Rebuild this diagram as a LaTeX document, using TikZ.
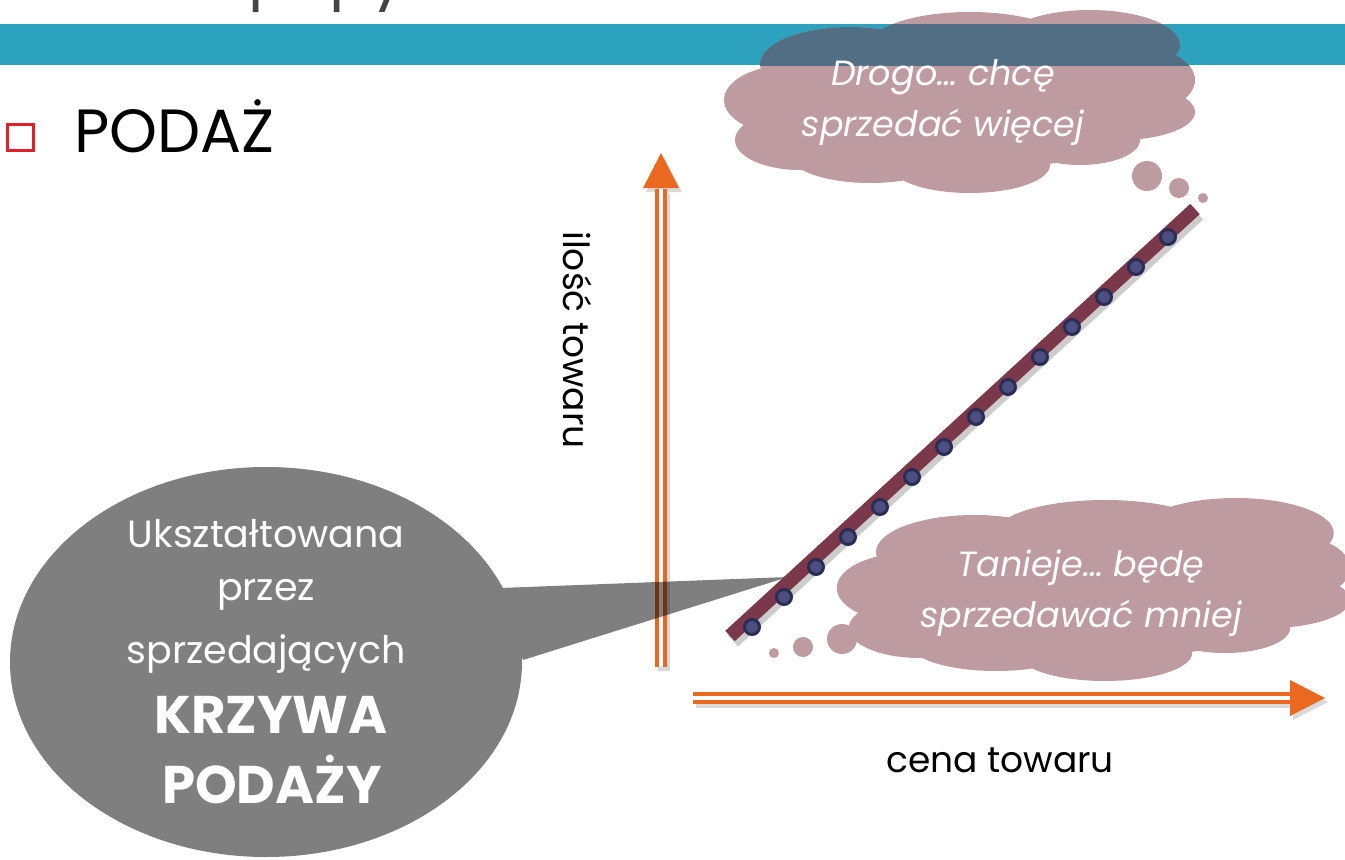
\documentclass[tikz,border=0pt]{standalone}
\usepackage{fontspec}
\setmainfont{Poppins}
\usetikzlibrary{positioning}

\definecolor{barblue}{RGB}{44,162,191}
\definecolor{barcloud}{RGB}{82,110,132}
\definecolor{cloudpink}{RGB}{190,154,161}
\definecolor{axisorange}{RGB}{234,104,31}
\definecolor{curvewine}{RGB}{122,56,74}
\definecolor{dotnavy}{RGB}{42,44,84}
\definecolor{dotblue}{RGB}{74,78,128}
\definecolor{boxred}{RGB}{224,32,42}
\definecolor{titlegrey}{RGB}{68,68,68}

% lobes of one thought cloud, centred at (0,0)
\newcommand{\cloudlobes}{%
  (0,4) ellipse [x radius=210, y radius=65]
  (-110,-37) ellipse [x radius=90, y radius=37]
  (10,-56) ellipse [x radius=100, y radius=33]
  (130,-56) ellipse [x radius=90, y radius=35]
  (170,-21) ellipse [x radius=65, y radius=35]
  (160,11) ellipse [x radius=75, y radius=28]
  (-170,-1) ellipse [x radius=66, y radius=35]
  (-160,39) ellipse [x radius=65, y radius=30]
  (-90,54) ellipse [x radius=80, y radius=28]
  (10,64) ellipse [x radius=80, y radius=28]
  (120,39) ellipse [x radius=60, y radius=25]}

\begin{document}
\begin{tikzpicture}[x=1pt,y=-1pt,
    axis/.style={draw=axisorange,line width=4pt,double=white,double distance=4pt},
    axisshade/.style={draw=black,line width=12pt,opacity=0.15},
    axishead/.style={fill=axisorange},
    headshade/.style={fill=black,opacity=0.15},
    cloudfill/.style={fill=cloudpink},
    thought/.style={text=white,align=center,font=\itshape\fontsize{35}{51}\selectfont},
    axislabel/.style={font=\fontsize{36}{40}\selectfont},
    saytext/.style={text=white,anchor=base,font=\fontsize{38}{46}\selectfont},
    saybold/.style={text=white,anchor=base,font=\bfseries\fontsize{53}{60}\selectfont},
    dot/.style={circle,fill=dotblue,draw=dotnavy,line width=3pt,minimum size=15pt,inner sep=0pt}]

\useasboundingbox (0,0) rectangle (1345,860);

% title strip
\node[anchor=base west,text=titlegrey,font=\fontsize{62}{70}\selectfont,inner sep=0pt] (title) at (248,-4) {popyt};
\fill[barblue] (0,24) rectangle (1345,65);

\node[draw=boxred,line width=3pt,minimum size=26pt,inner sep=0pt] (bullet) at (20.5,137) {};
\node[anchor=base west,inner sep=0pt,font=\fontsize{61}{70}\selectfont] (supply) at (74,152) {PODAŻ};

% axes
\coordinate (y-lo) at (661,667);
\coordinate (y-hi) at (661,189);
\coordinate (x-lo) at (693,698);
\coordinate (x-hi) at (1291,698);

\draw[axisshade] ([shift={(3,4)}]y-lo) -- ([shift={(3,4)}]y-hi);
\fill[headshade] (664,157) -- (646,192) -- (682,192) -- cycle;
\draw[axis] (y-lo) -- (y-hi);
\fill[axishead] (661,153) -- (643,188) -- (679,188) -- cycle;

\draw[axisshade] ([shift={(3,4)}]x-lo) -- ([shift={(3,4)}]x-hi);
\fill[headshade] (1328,702) -- (1293,684) -- (1293,720) -- cycle;
\draw[axis] (x-lo) -- (x-hi);
\fill[axishead] (1325,698) -- (1290,680) -- (1290,716) -- cycle;

\node[axislabel,rotate=-90] (qty) at (578,340) {ilość towaru};
\node[axislabel] (price) at (1000,760) {cena towaru};

% callout
\begin{scope}[transparency group,opacity=0.5]
  \fill (266,662) ellipse [x radius=256, y radius=195];
  \fill (500,588) -- (788,577) -- (523,660) -- cycle;
\end{scope}
\node[saytext] (shaped) at (266,547) {Ukształtowana};
\node[saytext] (by) at (266,600) {przez};
\node[saytext] (sellers) at (266,663) {sprzedających};
\node[saybold] (curve) at (271,733) {KRZYWA};
\node[saybold] (ofsupply) at (272,803) {PODAŻY};

% supply curve
\coordinate (c-lo) at (730,636);
\coordinate (c-hi) at (1195,209);
\draw[black,opacity=0.2,line width=15pt] ([shift={(3,5)}]c-lo) -- ([shift={(3,5)}]c-hi);
\draw[curvewine,line width=14pt] (c-lo) -- (c-hi);
\foreach \i in {0,...,13}
  \node[dot] (d\i) at (752+32*\i,627-30*\i) {};

% clouds
\fill[cloudfill,shift={(960,101)}] \cloudlobes;
\begin{scope}
  \clip (0,24) rectangle (1345,65);
  \fill[barcloud,shift={(960,101)}] \cloudlobes;
\end{scope}
\fill[cloudfill] (1147,176) circle [radius=15] (1179,188) circle [radius=10] (1203,198) circle [radius=5];
\node[thought] (dear) at (943,103) {Drogo… chcę\\sprzedać więcej};

\fill[cloudfill,shift={(1094,589)},xscale=1.09] \cloudlobes;
\fill[cloudfill] (842,639) circle [radius=15] (803,647) circle [radius=10] (774,653) circle [radius=5];
\node[thought] (cheap) at (1081,593) {Tanieje… będę\\sprzedawać mniej};

\end{tikzpicture}
\end{document}
